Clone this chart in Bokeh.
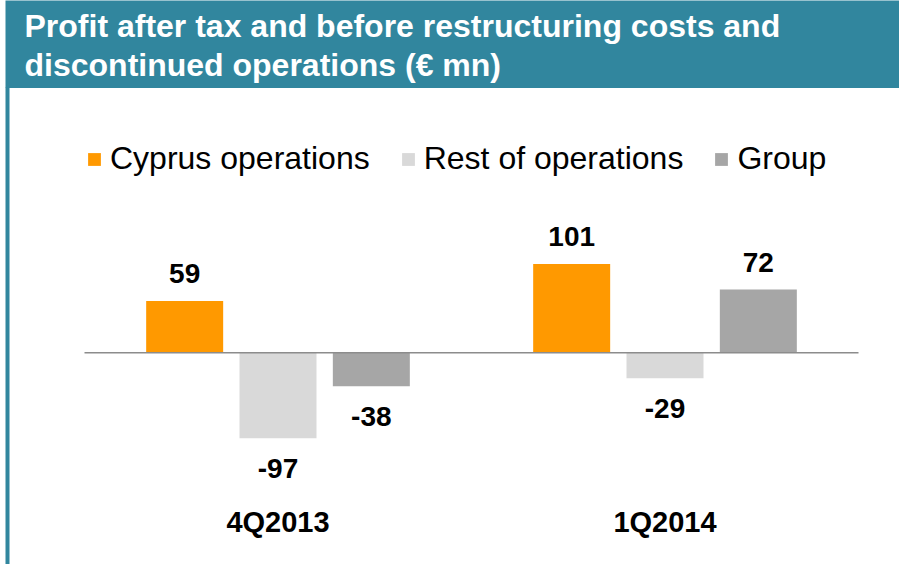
from bokeh.plotting import figure
from bokeh.models import Range1d, ColumnDataSource, Legend, LegendItem
from bokeh.core.properties import value
from bokeh.embed import file_html
from bokeh.resources import INLINE

# ---- data ----
title_lines = ["Profit after tax and before restructuring costs and",
               "discontinued operations (€ mn)"]
categories = ["4Q2013", "1Q2014"]
series = ["Cyprus operations", "Rest of operations", "Group"]
cyprus = [59, 101]
rest = [-97, -29]
group = [-38, 72]
values_by_series = [cyprus, rest, group]
colors = ["#FF9900", "#D9D9D9", "#A6A6A6"]

TEAL = "#31869E"
FONT_NAME = "Liberation Sans"
FONT = value(FONT_NAME)

W, H = 899, 564
p = figure(width=W, height=H, output_backend="svg", toolbar_location=None,
           x_range=Range1d(8, 907), y_range=Range1d(572, 8),
           x_axis_location=None, y_axis_location=None, min_border=0)
p.grid.visible = False
p.outline_line_color = None
p.background_fill_color = "white"
p.border_fill_color = "white"

# bar coordinate systems
px_per_unit = 0.88
zero_y = 360.3
p.extra_y_ranges = {"val": Range1d((zero_y - 572) / px_per_unit, (zero_y - 8) / px_per_unit)}
group_pitch = 387.0
g0 = 285.5
p.extra_x_ranges = {"cat": Range1d((8 - g0) / group_pitch, (907 - g0) / group_pitch)}

# header band and left border
p.quad(left=13, right=907, top=6, bottom=95.5, fill_color=TEAL, line_color=None)
p.quad(left=13, right=17, top=95, bottom=580, fill_color=TEAL, line_color=None)
p.text(x=[32, 32], y=[33, 72.5], text=title_lines, text_font=FONT,
       text_font_style="bold", text_font_size="32px", text_color="white",
       text_baseline="middle", text_align="left")

# bars
slot = 93.33 / group_pitch
bar_w = 77.0 / group_pitch
renderers = []
for k, (name, vals, col) in enumerate(zip(series, values_by_series, colors)):
    xs = [i + (k - 1) * slot for i in range(len(categories))]
    src = ColumnDataSource(dict(
        x=xs, top=vals, label=[str(v) for v in vals],
        ly=[v + 31 if v >= 0 else v - 34 for v in vals]))
    r = p.vbar(x="x", top="top", bottom=0, width=bar_w, source=src,
               x_range_name="cat", y_range_name="val",
               fill_color=col, line_color=None)
    renderers.append(r)
    p.text(x="x", y="ly", text="label", source=src,
           x_range_name="cat", y_range_name="val",
           text_font=FONT, text_font_style="bold", text_font_size="28px",
           text_color="black", text_align="center", text_baseline="middle")

# zero line
p.segment(x0=[-0.5], x1=[len(categories) - 0.5], y0=[0], y1=[0],
          x_range_name="cat", y_range_name="val",
          line_color="#8C8C8C", line_width=1.5)

# category labels
p.text(x=list(range(len(categories))), y=[529] * len(categories), text=categories,
       x_range_name="cat", text_font=FONT, text_font_style="bold",
       text_font_size="29px", text_color="black",
       text_align="center", text_baseline="middle")

legend = Legend(items=[LegendItem(label=s, renderers=[r]) for s, r in zip(series, renderers)],
                orientation="horizontal", location=(86, 387),
                glyph_width=16, glyph_height=16, label_standoff=8, spacing=30,
                padding=0, margin=0, border_line_color=None,
                background_fill_alpha=0, label_text_font=FONT_NAME,
                label_text_font_size="32px", label_text_color="black")
p.add_layout(legend, "center")

open("out.html", "w").write(file_html(p, INLINE))
